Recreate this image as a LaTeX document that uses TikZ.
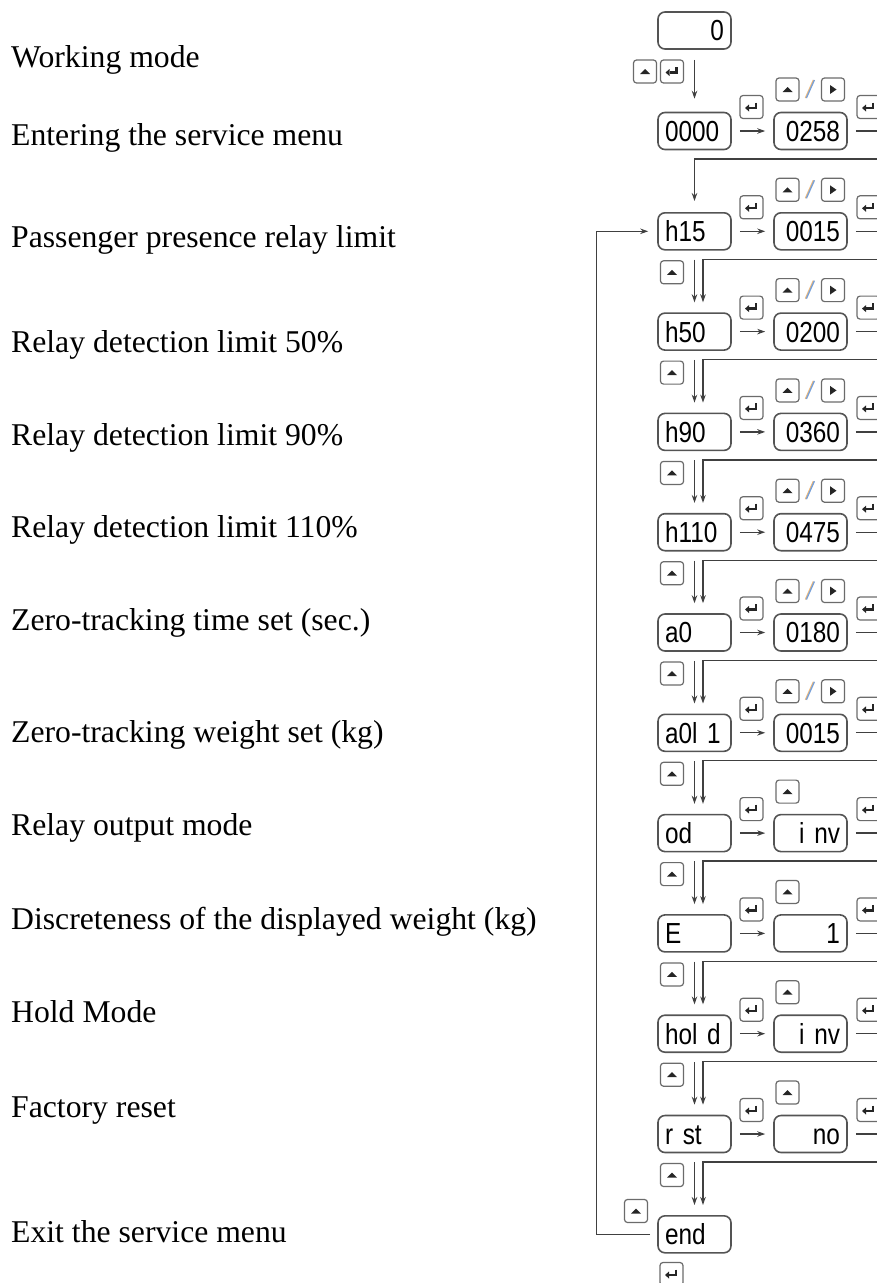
\documentclass[tikz,border=0pt]{standalone}
\usepackage{fontspec}
\setmainfont{Liberation Serif}
\newfontfamily\lcd[FakeStretch=0.84]{Liberation Sans}
\usetikzlibrary{arrows.meta}

\definecolor{boxgray}{gray}{0.33}
\definecolor{keygray}{gray}{0.42}
\definecolor{glyph}{gray}{0.15}
\definecolor{linegray}{gray}{0.25}
\definecolor{slashblue}{RGB}{120,160,215}
\definecolor{slashorange}{RGB}{240,185,120}

\tikzset{
  disp/.style={draw=boxgray, line width=1.6pt, rounded corners=7pt,
    minimum width=73pt, minimum height=37pt, text width=59pt,
    inner xsep=7pt, inner ysep=0pt, text height=20.8pt, text depth=0pt,
    font=\lcd\fontsize{29}{29}\selectfont},
  keybox/.style={draw=keygray, line width=1.2pt, rounded corners=3pt,
    minimum width=23pt, minimum height=23pt, inner sep=0pt},
  keyup/.style={keybox, path picture={
    \fill[glyph, sharp corners]
      ([shift={(-5pt,-2.5pt)}]path picture bounding box.center)
      -- ++(10pt,0pt) -- ++(-5pt,5pt) -- cycle;}},
  keyright/.style={keybox, path picture={
    \fill[glyph, sharp corners]
      ([shift={(-3pt,4.5pt)}]path picture bounding box.center)
      -- ++(0pt,-9pt) -- ++(6.5pt,4.5pt) -- cycle;}},
  keyent/.style={keybox, path picture={
    \draw[glyph, sharp corners, line width=2.3pt]
      ([shift={(4.5pt,4.5pt)}]path picture bounding box.center)
      -- ++(0pt,-5.5pt) -- ++(-7pt,0pt);
    \fill[glyph, sharp corners]
      ([shift={(-6.5pt,-1pt)}]path picture bounding box.center)
      -- ++(4pt,3.5pt) -- ++(0pt,-7pt) -- cycle;}},
  wire/.style={draw=linegray, line width=1.3pt},
  arr/.style={wire, -{Stealth[length=8pt,width=5.5pt]}},
  slash/.style={line width=1.3pt},
  labeltext/.style={anchor=base west, inner sep=0pt,
    font=\fontsize{31.7}{34}\selectfont}
}

\begin{document}
\begin{tikzpicture}[x=1pt,y=-1pt]
  \useasboundingbox (0,0) rectangle (877,1283);
  \clip (0,0) rectangle (877,1283);

  % texts on the left
  \foreach \txt/\yb [count=\i] in {Working mode/67, Entering the service menu/145,
      Passenger presence relay limit/247, Relay detection limit 50\%/352,
      Relay detection limit 90\%/445, Relay detection limit 110\%/537,
      Zero-tracking time set (sec.)/630, Zero-tracking weight set (kg)/742,
      Relay output mode/835, Discreteness of the displayed weight (kg)/929,
      Hold Mode/1022, Factory reset/1117, Exit the service menu/1242} {
    \node[labeltext] (lab\i) at (11,\yb) {\txt};
  }

  % working mode
  \node[disp, align=right] (work) at (694.5,30.5) {0};
  \node[keyup] (uwork) at (645,71.5) {};
  \node[keyent] (ework) at (672,71.5) {};

  % menu rows
  \foreach \nm/\code/\val/\sel [count=\r from 0] in {srv/0000/0258/2,
      h15/h15/0015/2, h50/h50/0200/2, h90/h90/0360/2, h110/h110/0475/2,
      a0/a0/0180/2, a0l/a0l 1/0015/2, od/od/i nv/1, E/E/1/1,
      hold/hol d/i nv/1, rst/r st/no/1} {
    \pgfmathsetmacro{\y}{131+100.3*\r}
    \node[disp, align=left] (\nm) at (694.5,\y) {\code};
    \node[disp, align=right] (v\nm) at (810.5,\y) {\val};
    \coordinate (o\nm) at (900,\y);
    \draw[arr, shorten <=8pt, shorten >=8pt] (\nm) -- (v\nm);
    \draw[wire, shorten <=8pt] (v\nm) -- (o\nm);
    \node[keyent] (e\nm) at (751.5,\y-24) {};
    \node[keyent] (f\nm) at (868.5,\y-24) {};
    \node[keyup] (u\nm) at (787.5,\y-41.5) {};
    \ifnum\sel=2
      \node[keyright] (s\nm) at (833,\y-41.5) {};
      \draw[slash, slashorange] (805.4,\y-33) -- (813.4,\y-51);
      \draw[slash, slashblue] (806.4,\y-33) -- (814.4,\y-51);
    \fi
  }

  \node[disp, align=left] (endb) at (694.5,1234.3) {end};
  \node[keyup] (uend) at (636,1211) {};
  \node[keyent] (eend) at (671.5,1274) {};

  \draw[arr, shorten <=10pt, shorten >=13pt] (work.south) -- (srv.north);
  \coordinate (rsrv) at (900,159);
  \draw[arr] (rsrv) -| ([yshift=11pt]h15.north);

  \foreach \cur/\nxt [count=\r] in {h15/h50, h50/h90, h90/h110, h110/a0,
      a0/a0l, a0l/od, od/E, E/hold, hold/rst, rst/endb} {
    \pgfmathsetmacro{\y}{131+100.3*\r}
    \draw[arr, shorten <=9pt, shorten >=10pt] (\cur.south) -- (\nxt.north);
    \coordinate (r\cur) at (900,\y+28);
    \draw[arr] (r\cur) -| ([xshift=8.5pt,yshift=10pt]\nxt.north);
    \node[keyup] (d\cur) at (672,\y+41) {};
  }

  % back to the first item
  \draw[arr, shorten >=9pt] ([xshift=-7pt]endb.west) -- ++(-54,0) |- (h15.west);
\end{tikzpicture}
\end{document}
